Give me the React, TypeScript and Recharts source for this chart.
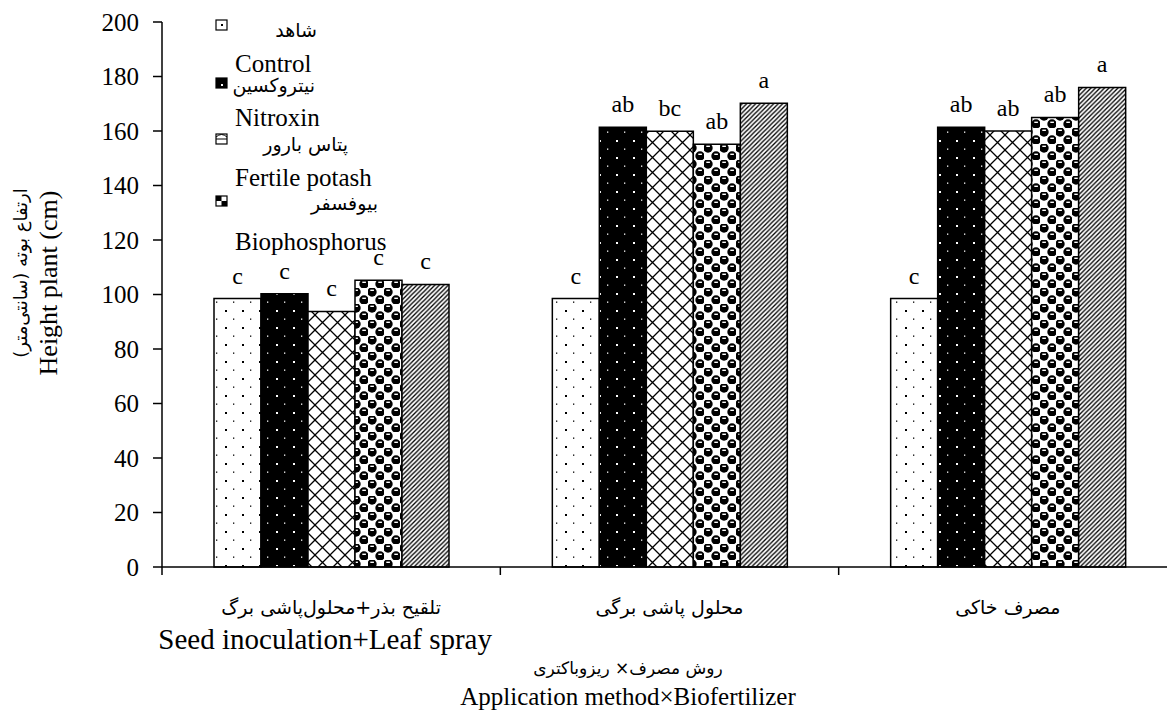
import React from 'react';
import { BarChart, Bar, XAxis, YAxis, LabelList } from 'recharts';

// ---- data ----
const categoriesFa = ['تلقیح بذر+محلول‌پاشی برگ', 'محلول پاشی برگی', 'مصرف خاکی'];
const categoriesEn = ['Seed inoculation+Leaf spray', '', ''];

const control = [98.5, 98.5, 98.5];
const nitroxin = [100.3, 161.4, 161.4];
const potash = [93.8, 159.9, 160.0];
const biophosphorus = [105.2, 155.1, 165.0];
const series5 = [103.7, 170.2, 176.0];

const lettersControl = ['c', 'c', 'c'];
const lettersNitroxin = ['c', 'ab', 'ab'];
const lettersPotash = ['c', 'bc', 'ab'];
const lettersBio = ['c', 'ab', 'ab'];
const letters5 = ['c', 'a', 'a'];

const legendFa = ['شاهد', 'نیتروکسین', 'پتاس بارور', 'بیوفسفر'];
const legendEn = ['Control', 'Nitroxin', 'Fertile potash', 'Biophosphorus'];

const yTicks = [0, 20, 40, 60, 80, 100, 120, 140, 160, 180, 200];

const yTitleFa = 'ارتفاع بوته (سانتی‌متر)';
const yTitleEn = 'Height plant (cm)';
const xTitleFa = 'روش مصرف× ریزوباکتری';
const xTitleEn = 'Application method×Biofertilizer';

const data = categoriesFa.map((c, i) => ({
  cat: c,
  control: control[i],
  nitroxin: nitroxin[i],
  potash: potash[i],
  bio: biophosphorus[i],
  s5: series5[i],
  lControl: lettersControl[i],
  lNitroxin: lettersNitroxin[i],
  lPotash: lettersPotash[i],
  lBio: lettersBio[i],
  l5: letters5[i],
}));

const SERIF = "'Liberation Serif', 'Times New Roman', serif";
const FA = "'DejaVu Sans', sans-serif";

const CatTick = (props: any) => {
  const { x, y, payload } = props;
  const i = payload && payload.index != null ? payload.index : props.index;
  const half = payload && typeof payload.offset === 'number' ? payload.offset : 0;
  const last = i === categoriesFa.length - 1;
  return (
    <g>
      {half > 0 ? (
        <line x1={x - half} x2={x - half} y1={y} y2={y + 8} stroke="#000" strokeWidth={1.5} />
      ) : null}
      {half > 0 && last ? (
        <line x1={x + half} x2={x + half} y1={y} y2={y + 8} stroke="#000" strokeWidth={1.5} />
      ) : null}
      <text x={x} y={y + 47} textAnchor="middle" fontFamily={FA} fontSize={19} fill="#000">
        {categoriesFa[i]}
      </text>
      {categoriesEn[i] ? (
        <text x={x - 6} y={y + 82} textAnchor="middle" fontFamily={SERIF} fontSize={29} fill="#000">
          {categoriesEn[i]}
        </text>
      ) : null}
    </g>
  );
};

const labelStyle = { fontFamily: SERIF, fontSize: 24, fill: '#000' };

export default function App() {
  return (
    <div
      style={{
        position: 'absolute',
        left: 0,
        top: 0,
        width: 1167,
        height: 713,
        overflow: 'hidden',
        background: '#fff',
        fontFamily: SERIF,
      }}
    >
      <BarChart
        width={1190}
        height={713}
        data={data}
        margin={{ top: 22, right: 13, left: 0, bottom: 0 }}
        barGap={0}
        barSize={47}
      >
        <defs>
          <pattern id="pDots" width="17" height="17" patternUnits="userSpaceOnUse">
            <rect width="17" height="17" fill="#fff" />
            <rect x="4" y="4" width="2" height="2" fill="#000" />
            <rect x="12" y="12.5" width="1.3" height="1.3" fill="#000" />
          </pattern>
          <pattern id="pBlack" width="17" height="17" patternUnits="userSpaceOnUse">
            <rect width="17" height="17" fill="#000" />
            <rect x="4" y="4" width="2" height="2" fill="#fff" />
            <rect x="12" y="12.5" width="1.3" height="1.3" fill="#fff" />
          </pattern>
          <pattern id="pCross" width="15" height="15" patternUnits="userSpaceOnUse">
            <rect width="15" height="15" fill="#fff" />
            <path d="M0,0 L15,15 M15,0 L0,15" stroke="#000" strokeWidth="1.3" />
          </pattern>
          <pattern id="pChecker" width="16" height="16" patternUnits="userSpaceOnUse">
            <rect width="16" height="16" fill="#fff" />
            <circle cx="4" cy="4" r="4.7" fill="#000" />
            <circle cx="12" cy="12" r="4.7" fill="#000" />
            <rect x="2.3" y="1.6" width="3.6" height="1.4" fill="#fff" />
            <rect x="10.3" y="9.6" width="3.6" height="1.4" fill="#fff" />
          </pattern>
          <pattern id="pDiag" width="4.5" height="4.5" patternUnits="userSpaceOnUse">
            <rect width="4.5" height="4.5" fill="#fff" />
            <path d="M-1,5.5 L5.5,-1 M-1,1 L1,-1 M3.5,5.5 L5.5,3.5" stroke="#000" strokeWidth="1.3" />
          </pattern>
        </defs>

        <XAxis
          dataKey="cat"
          height={146}
          tickLine={false}
          tickSize={0}
          tickMargin={0}
          axisLine={{ stroke: '#000', strokeWidth: 1.5 }}
          tick={CatTick}
          interval={0}
        />
        <YAxis
          width={162}
          domain={[0, 200]}
          ticks={yTicks}
          interval={0}
          tickSize={9}
          tickMargin={14}
          axisLine={{ stroke: '#000', strokeWidth: 1.5 }}
          tickLine={{ stroke: '#000', strokeWidth: 1.5 }}
          tick={{ fontFamily: SERIF, fontSize: 25, fill: '#000' }}
        />

        <Bar dataKey="control" name={legendEn[0]} fill="url(#pDots)" stroke="#000" strokeWidth={1.5} isAnimationActive={false}>
          <LabelList dataKey="lControl" position="top" offset={15} style={labelStyle} />
        </Bar>
        <Bar dataKey="nitroxin" name={legendEn[1]} fill="url(#pBlack)" stroke="#000" strokeWidth={1.5} isAnimationActive={false}>
          <LabelList dataKey="lNitroxin" position="top" offset={15} style={labelStyle} />
        </Bar>
        <Bar dataKey="potash" name={legendEn[2]} fill="url(#pCross)" stroke="#000" strokeWidth={1.5} isAnimationActive={false}>
          <LabelList dataKey="lPotash" position="top" offset={15} style={labelStyle} />
        </Bar>
        <Bar dataKey="bio" name={legendEn[3]} fill="url(#pChecker)" stroke="#000" strokeWidth={1.5} isAnimationActive={false}>
          <LabelList dataKey="lBio" position="top" offset={15} style={labelStyle} />
        </Bar>
        <Bar dataKey="s5" name="series5" fill="url(#pDiag)" stroke="#000" strokeWidth={1.5} isAnimationActive={false}>
          <LabelList dataKey="l5" position="top" offset={15} style={labelStyle} />
        </Bar>

        {/* legend (inside plot, top-left) */}
        <g>
          <rect x={216} y={20} width={11} height={10} fill="#fff" stroke="#000" strokeWidth={1.2} />
          <rect x={221} y={24} width={2} height={2} fill="#000" />
          <text x={317} y={37} textAnchor="end" fontFamily={FA} fontSize={19} fill="#000">{legendFa[0]}</text>
          <text x={235} y={72} fontFamily={SERIF} fontSize={25} fill="#000">{legendEn[0]}</text>

          <rect x={216} y={78} width={11} height={10} fill="#000" stroke="#000" strokeWidth={1.2} />
          <rect x={221} y={84} width={2} height={2} fill="#fff" />
          <text x={315} y={92} textAnchor="end" fontFamily={FA} fontSize={19} fill="#000">{legendFa[1]}</text>
          <text x={235} y={126} fontFamily={SERIF} fontSize={25} fill="#000">{legendEn[1]}</text>

          <rect x={216} y={134} width={11} height={10} fill="#fff" stroke="#000" strokeWidth={1.2} />
          <path d="M216,137 Q221.5,132 227,137 M216,139 L227,139" stroke="#000" strokeWidth={1} fill="none" />
          <text x={348} y={151} textAnchor="end" fontFamily={FA} fontSize={19} fill="#000">{legendFa[2]}</text>
          <text x={235} y={186} fontFamily={SERIF} fontSize={25} fill="#000">{legendEn[2]}</text>

          <rect x={216} y={196} width={11} height={10} fill="#fff" stroke="#000" strokeWidth={1.2} />
          <rect x={216} y={196} width={5.5} height={5} fill="#000" />
          <rect x={221.5} y={201} width={5.5} height={5} fill="#000" />
          <text x={378} y={210} textAnchor="end" fontFamily={FA} fontSize={19} fill="#000">{legendFa[3]}</text>
          <text x={235} y={250} fontFamily={SERIF} fontSize={25} fill="#000">{legendEn[3]}</text>
        </g>

        {/* y-axis title */}
        <text x={20} y={273} transform="rotate(-90, 20, 273)" textAnchor="middle" dominantBaseline="central" fontFamily={FA} fontSize={18} fill="#000">
          {yTitleFa}
        </text>
        <text x={48} y={283} transform="rotate(-90, 48, 283)" textAnchor="middle" dominantBaseline="central" fontFamily={SERIF} fontSize={26} fill="#000">
          {yTitleEn}
        </text>

        {/* x-axis title */}
        <text x={628} y={674} textAnchor="middle" fontFamily={FA} fontSize={17} fill="#000">{xTitleFa}</text>
        <text x={628} y={705} textAnchor="middle" fontFamily={SERIF} fontSize={25} fill="#000">{xTitleEn}</text>
      </BarChart>
    </div>
  );
}
